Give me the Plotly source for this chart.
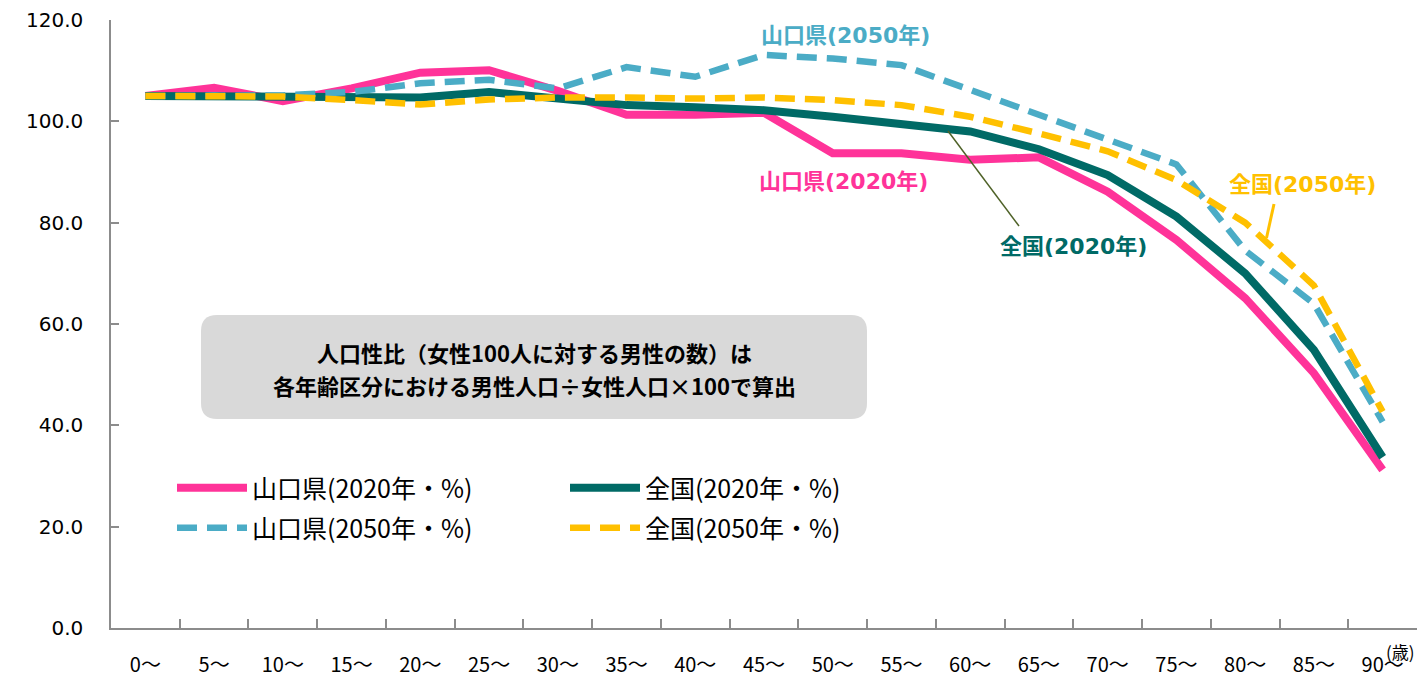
import plotly.graph_objects as go

categories = ["0～", "5～", "10～", "15～", "20～", "25～", "30～", "35～", "40～", "45～",
              "50～", "55～", "60～", "65～", "70～", "75～", "80～", "85～", "90～"]
yamaguchi_2020 = [105.0, 106.6, 104.0, 106.5, 109.6, 110.1, 106.0, 101.3, 101.3, 101.7,
                  93.7, 93.7, 92.4, 92.9, 86.1, 76.6, 65.1, 50.3, 31.2]
national_2020 = [105.0, 105.0, 105.0, 105.0, 104.7, 105.8, 104.5, 103.2, 102.8, 102.2,
                 100.9, 99.6, 98.0, 94.5, 89.4, 81.2, 70.0, 54.9, 33.7]
yamaguchi_2050 = [105.0, 105.0, 105.1, 105.8, 107.5, 108.2, 106.5, 110.7, 108.8, 113.1,
                  112.4, 111.1, 106.2, 101.0, 96.3, 91.5, 74.5, 64.0, 40.7]
national_2050 = [105.0, 105.0, 104.9, 104.2, 103.3, 104.3, 104.7, 104.7, 104.5, 104.7,
                 104.2, 103.2, 100.9, 97.6, 94.1, 88.4, 80.0, 67.6, 42.7]
y_ticks = [0, 20, 40, 60, 80, 100, 120]

PINK = "#FF3399"
TEAL = "#006A66"
BLUE = "#4BACC6"
YELLOW = "#FFC000"

W, H = 1418, 677
ML, MR, MT, MB = 111, 1, 20, 49
PW, PH = W - ML - MR, H - MT - MB


def px(x):
    return (x - ML) / PW


def py(y):
    return (H - MB - y) / PH


CJK = "Noto Sans CJK JP"
fig = go.Figure()
fig.add_trace(go.Scatter(x=categories, y=yamaguchi_2020, mode="lines", name="山口県(2020年・%)",
                         line=dict(color=PINK, width=8), legend="legend"))
fig.add_trace(go.Scatter(x=categories, y=national_2020, mode="lines", name="全国(2020年・%)",
                         line=dict(color=TEAL, width=8), legend="legend2"))
fig.add_trace(go.Scatter(x=categories, y=yamaguchi_2050, mode="lines", name="山口県(2050年・%)",
                         line=dict(color=BLUE, width=6.5, dash="20px,10px"), legend="legend3"))
fig.add_trace(go.Scatter(x=categories, y=national_2050, mode="lines", name="全国(2050年・%)",
                         line=dict(color=YELLOW, width=6.5, dash="20px,10px"), legend="legend4"))

leg_common = dict(orientation="v", xanchor="left", yanchor="middle", itemwidth=70,
                  font=dict(family=CJK, size=25, color="#000000"), bgcolor="rgba(0,0,0,0)",
                  borderwidth=0)
fig.update_layout(
    legend=dict(x=px(172), y=py(488), **leg_common),
    legend2=dict(x=px(565), y=py(488), **leg_common),
    legend3=dict(x=px(172), y=py(528), **leg_common),
    legend4=dict(x=px(565), y=py(528), **leg_common),
)

# grey note box with rounded corners
bx0, bx1, by0, by1 = 201, 867, 315, 419
r = 16
path = (f"M {px(bx0 + r)},{py(by0)} L {px(bx1 - r)},{py(by0)} "
        f"Q {px(bx1)},{py(by0)} {px(bx1)},{py(by0 + r)} "
        f"L {px(bx1)},{py(by1 - r)} Q {px(bx1)},{py(by1)} {px(bx1 - r)},{py(by1)} "
        f"L {px(bx0 + r)},{py(by1)} Q {px(bx0)},{py(by1)} {px(bx0)},{py(by1 - r)} "
        f"L {px(bx0)},{py(by0 + r)} Q {px(bx0)},{py(by0)} {px(bx0 + r)},{py(by0)} Z")
fig.add_shape(type="path", path=path, xref="paper", yref="paper",
              fillcolor="#D9D9D9", line=dict(width=0), layer="below")

note_font = dict(family=CJK, size=22, color="#000000", weight="bold")
fig.add_annotation(text="人口性比（女性100人に対する男性の数）は", x=px(534), y=py(352),
                   xref="paper", yref="paper", xanchor="center", yanchor="middle",
                   showarrow=False, font=note_font)
fig.add_annotation(text="各年齢区分における男性人口÷女性人口×100で算出", x=px(534), y=py(385),
                   xref="paper", yref="paper", xanchor="center", yanchor="middle",
                   showarrow=False, font=note_font)

lab_font = "DejaVu Sans, " + CJK
for txt, cx, cy, col in [("山口県(2050年)", 845, 36, BLUE),
                         ("山口県(2020年)", 843, 181, PINK),
                         ("全国(2020年)", 1073, 246, TEAL),
                         ("全国(2050年)", 1302, 184, YELLOW)]:
    fig.add_annotation(text=txt, x=px(cx), y=py(cy), xref="paper", yref="paper",
                       xanchor="center", yanchor="middle", showarrow=False,
                       font=dict(family=lab_font, size=22, color=col, weight="bold"))

fig.add_shape(type="line", xref="paper", yref="paper", x0=px(948), y0=py(131), x1=px(1019), y1=py(226),
              line=dict(color="#4F6228", width=1.5))
fig.add_shape(type="line", xref="paper", yref="paper", x0=px(1274), y0=py(204), x1=px(1266.5), y1=py(238),
              line=dict(color=YELLOW, width=3))

fig.add_annotation(text="(歳)", x=1.0, y=py(651), xref="paper", yref="paper", xanchor="right",
                   yanchor="middle", showarrow=False, font=dict(family=CJK, size=17, color="#000000"))

fig.update_layout(
    width=W, height=H,
    margin=dict(l=ML, r=MR, t=MT, b=MB, pad=0),
    paper_bgcolor="#FFFFFF", plot_bgcolor="#FFFFFF",
    showlegend=True,
    xaxis=dict(type="category", range=[-0.5, len(categories) - 0.5], tickson="boundaries",
               ticks="inside", ticklen=9, tickcolor="#8C8C8C", tickwidth=1.5, automargin=False,
               showline=True, linecolor="#8C8C8C", linewidth=1.5, showgrid=False, zeroline=False,
               tickfont=dict(family=CJK, size=20, color="#000000"), ticklabelstandoff=18),
    yaxis=dict(range=[0, 120], tickvals=y_ticks, tickformat=".1f", automargin=False,
               ticks="inside", ticklen=8, tickcolor="#8C8C8C", tickwidth=1.5,
               showline=True, linecolor="#8C8C8C", linewidth=1.5, showgrid=False, zeroline=False,
               tickfont=dict(family="DejaVu Sans", size=20, color="#000000"), ticklabelstandoff=22),
)

fig.write_html("out.html", config={"displayModeBar": False},
               post_script="document.body.style.margin='0';document.body.style.overflow='hidden';")
